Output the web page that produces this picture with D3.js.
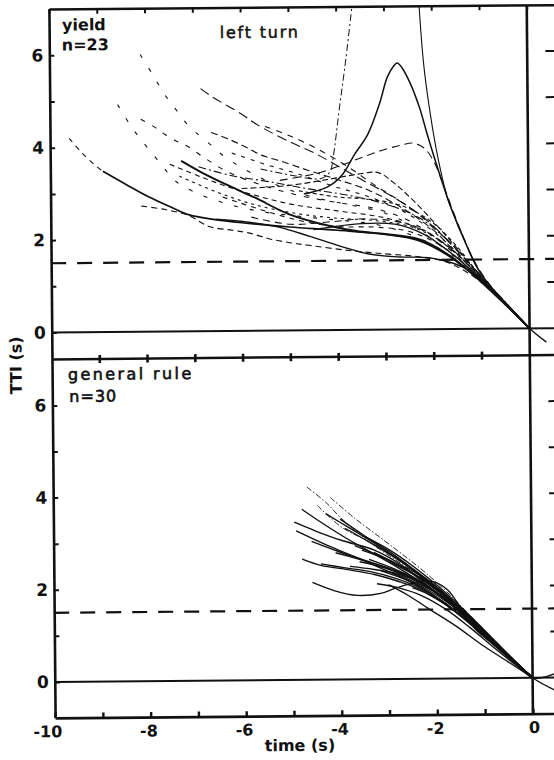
<!DOCTYPE html>
<html>
<head>
<meta charset="utf-8">
<script src="https://cdn.jsdelivr.net/npm/d3@7"></script>
<style>
  html, body { margin: 0; padding: 0; background: #fff; }
  svg { display: block; }
</style>
</head>
<body>
<svg id="chart"></svg>
<script>
// ---- data ----
const xTicks = [-10, -9, -8, -7, -6, -5, -4, -3, -2, -1, 0];
const xLabels = [-10, -8, -6, -4, -2, 0];
const yTicks = [0, 1, 2, 3, 4, 5, 6];
const yLabels = [0, 2, 4, 6];
const rightTicks = [1, 2, 3, 4, 5, 6];
const threshold = 1.5;

// top panel: yield, n=23  -> [time, TTI]
const yieldCurves = [
  [[-9.6,4.2],[-9.35,3.9],[-9.07,3.62],[-8.9,3.48]],
  [[-8.9,3.48],[-8.4,3.18],[-7.95,2.92],[-7.5,2.7],[-7.1,2.52],[-6.6,2.42],[-6,2.34],[-5,2.24],[-4,2.16],[-3,2.06],[-2.3,1.92],[-1.7,1.6],[-1.2,1.2],[-0.8,0.84],[-0.4,0.43],[0,0]],
  [[-8.1,2.72],[-7.6,2.64],[-7.1,2.5],[-6.7,2.27],[-6.2,2.18],[-5.86,2.12],[-5.44,1.99],[-5,1.9],[-4.6,1.84],[-3.77,1.72],[-3,1.64],[-2.3,1.57],[-1.7,1.44],[-1.2,1.16],[-0.8,0.82],[0,0]],
  [[-8.1,6.0],[-7.85,5.58],[-7.6,5.14],[-7.36,4.8],[-7.1,4.45],[-6.6,4.0],[-6.35,3.77],[-5.8,3.42],[-5.2,3.12],[-4.5,2.88],[-3.8,2.72],[-3,2.52],[-2.3,2.15],[-1.6,1.6],[-1,1.06],[-0.5,0.54],[0,0]],
  [[-8.58,4.92],[-8.33,4.49],[-8.1,4.16],[-7.85,3.84],[-7.6,3.51],[-7.39,3.26],[-7.0,3.02],[-6.4,2.78],[-5.6,2.58],[-4.8,2.47],[-4,2.38],[-3.2,2.28],[-2.5,2.06],[-1.8,1.7],[-1.2,1.22],[-0.6,0.64],[0,0]],
  [[-8.1,4.6],[-7.8,4.42],[-7.6,4.27],[-7.32,4.1],[-7.1,3.99],[-6.84,3.8],[-6.3,3.45],[-5.6,3.16],[-4.8,2.92],[-4,2.76],[-3.2,2.62],[-2.5,2.35],[-1.8,1.85],[-1.2,1.26],[-0.6,0.64],[0,0]],
  [[-6.84,5.25],[-6.6,5.07],[-6.0,4.7],[-5.65,4.45],[-5.02,4.1],[-4.5,3.85],[-4,3.56],[-3.4,3.2],[-2.8,2.85],[-2.2,2.42],[-1.6,1.82],[-1,1.12],[-0.5,0.56],[0,0]],
  [[-6.63,4.3],[-6.28,4.16],[-5.93,3.99],[-5.58,3.8],[-5.16,3.66],[-4.6,3.46],[-4,3.26],[-3.3,3.0],[-2.6,2.6],[-2,2.15],[-1.5,1.62],[-1,1.08],[-0.5,0.54],[0,0]],
  [[-7.26,3.69],[-6.84,3.44],[-6.28,3.15],[-5.72,2.88],[-5.02,2.52],[-4.18,2.26],[-3.6,2.14],[-3.0,2.07],[-2.3,1.95],[-1.7,1.62],[-1.2,1.2],[-0.6,0.62],[0,0]],
  [[-6.55,2.42],[-5.86,2.35],[-5.23,2.24],[-4.6,2.04],[-3.9,1.8],[-3.35,1.64],[-2.7,1.57],[-2.1,1.55],[-1.6,1.43],[-1.26,1.27],[-0.84,0.9],[-0.45,0.48],[0,0],[0.35,-0.3]],
  [[-4.7,2.95],[-4.2,3.1],[-3.9,3.35],[-3.63,3.8],[-3.35,4.23],[-3.1,4.89],[-2.93,5.47],[-2.8,5.7],[-2.72,5.77],[-2.62,5.66],[-2.45,5.32],[-2.27,4.82],[-2.09,4.16],[-1.88,3.44],[-1.62,2.62],[-1.32,1.85],[-1.0,1.18],[-0.5,0.55],[0,0]],
  [[-5.6,3.5],[-4.9,3.35],[-4.35,3.28],[-4.15,3.42],[-4.08,3.73],[-3.94,4.8],[-3.8,5.83],[-3.6,7.5]],
  [[-2.28,7.5],[-2.17,5.76],[-2.04,4.67],[-1.89,3.73],[-1.68,2.79],[-1.4,2.06],[-1.12,1.38],[-0.8,0.9],[-0.4,0.44],[0,0]],
  [[-5.2,3.25],[-4.4,3.4],[-3.87,3.58],[-3.4,3.76],[-3.0,3.9],[-2.65,3.99],[-2.4,4.03],[-2.16,3.91],[-1.95,3.58],[-1.72,2.95],[-1.42,2.12],[-1.12,1.42],[-0.8,0.92],[-0.4,0.45],[0,0]],
  [[-6.0,3.08],[-5,3.14],[-4.2,3.26],[-3.56,3.37],[-3.14,3.4],[-2.82,3.18],[-2.4,2.78],[-1.9,2.22],[-1.4,1.62],[-1,1.12],[-0.5,0.56],[0,0]],
  [[-7.5,3.62],[-6.8,3.32],[-6,3.02],[-5,2.74],[-4,2.58],[-3,2.42],[-2.2,2.15],[-1.6,1.7],[-1,1.1],[-0.5,0.55],[0,0]],
  [[-7.3,3.36],[-6.5,3.0],[-5.7,2.72],[-4.8,2.52],[-4,2.42],[-3.2,2.36],[-2.4,2.2],[-1.7,1.8],[-1,1.1],[0,0]],
  [[-6.9,3.56],[-6.2,3.36],[-5.4,3.22],[-4.6,3.06],[-3.8,2.92],[-3,2.72],[-2.3,2.42],[-1.7,1.92],[-1,1.14],[0,0]],
  [[-6.4,2.9],[-5.6,2.62],[-4.8,2.38],[-4,2.24],[-3.2,2.22],[-2.5,2.12],[-1.8,1.78],[-1,1.06],[0,0]],
  [[-5.5,4.42],[-5,4.22],[-4.4,3.92],[-3.8,3.55],[-3.2,3.12],[-2.6,2.72],[-2,2.22],[-1.4,1.58],[-1,1.12],[0,0]],
  [[-4.8,3.02],[-4.0,2.88],[-3.3,2.82],[-2.6,2.66],[-2.0,2.3],[-1.5,1.78],[-1,1.12],[0,0]],
  [[-5.8,2.46],[-5,2.3],[-4.2,2.34],[-3.4,2.4],[-2.6,2.3],[-2,2.02],[-1.5,1.62],[-1,1.08],[0,0]],
  [[-4.5,2.18],[-3.5,2.3],[-2.8,2.28],[-2.2,2.06],[-1.6,1.62],[-1,1.06],[0,0]],
  [[-6.2,3.85],[-5.5,3.6],[-4.8,3.38],[-4.1,3.12],[-3.4,2.9],[-2.7,2.6],[-2.1,2.2],[-1.5,1.66],[-1,1.12],[0,0]]
];

// bottom panel: general rule, n=30
const generalCurves = [
  [[-4.69,4.18],[-4.3,3.85],[-3.98,3.5],[-3.6,3.16],[-3.29,2.9],[-2.8,2.55],[-2.32,2.22],[-1.8,1.8],[-1.3,1.3],[-0.8,0.8],[-0.4,0.4],[0,0]],
  [[-4.8,3.7],[-4.41,3.42],[-3.9,3.08],[-3.4,2.78],[-2.9,2.48],[-2.4,2.15],[-1.9,1.78],[-1.4,1.34],[-0.9,0.87],[-0.45,0.43],[0,0],[0.46,-0.27]],
  [[-4.96,3.42],[-4.5,3.22],[-3.98,3.02],[-3.29,2.8],[-2.8,2.52],[-2.3,2.12],[-1.8,1.7],[-1.3,1.25],[-0.8,0.78],[-0.4,0.38],[0,0]],
  [[-4.92,3.23],[-4.27,2.91],[-3.7,2.66],[-3.29,2.47],[-2.8,2.24],[-2.3,1.97],[-1.8,1.62],[-1.3,1.2],[-0.8,0.74],[-0.4,0.36],[0,0]],
  [[-4.8,2.62],[-4.41,2.48],[-3.85,2.38],[-3.29,2.27],[-2.8,2.12],[-2.3,1.92],[-1.8,1.6],[-1.3,1.2],[-0.8,0.75],[-0.4,0.36],[0,0]],
  [[-4.59,2.11],[-4.14,1.93],[-3.65,1.82],[-3.16,1.86],[-2.88,1.96],[-2.55,2.06],[-2.3,2.11],[-2.05,2.1],[-1.77,1.93],[-1.49,1.53],[-1.2,1.08],[-0.8,0.72],[-0.4,0.36],[0,0]],
  [[-4.47,3.78],[-3.98,3.31],[-3.43,3.0],[-2.9,2.68],[-2.4,2.32],[-1.9,1.9],[-1.4,1.42],[-0.9,0.92],[-0.45,0.46],[0,0]],
  [[-4.41,2.51],[-3.9,2.42],[-3.4,2.34],[-2.9,2.2],[-2.4,2.0],[-1.9,1.7],[-1.4,1.3],[-0.9,0.82],[-0.45,0.4],[0,0]],
  [[-4.3,3.6],[-3.8,3.28],[-3.3,2.96],[-2.8,2.6],[-2.3,2.22],[-1.8,1.8],[-1.3,1.32],[-0.8,0.82],[-0.4,0.4],[0,0]],
  [[-4.0,3.48],[-3.5,3.12],[-3.0,2.78],[-2.5,2.4],[-2.0,2.0],[-1.5,1.52],[-1.0,1.0],[-0.5,0.5],[0,0],[0.46,0.08]],
  [[-3.9,3.28],[-3.4,2.98],[-2.9,2.66],[-2.4,2.3],[-1.9,1.88],[-1.4,1.42],[-0.9,0.9],[-0.45,0.44],[0,0]],
  [[-3.7,2.9],[-3.2,2.68],[-2.7,2.42],[-2.2,2.08],[-1.7,1.68],[-1.2,1.2],[-0.7,0.68],[0,0]],
  [[-3.6,2.55],[-3.1,2.42],[-2.6,2.22],[-2.1,1.94],[-1.6,1.56],[-1.1,1.1],[-0.6,0.58],[0,0]],
  [[-3.5,3.1],[-3.0,2.82],[-2.5,2.46],[-2.0,2.04],[-1.5,1.56],[-1.0,1.04],[-0.5,0.5],[0,0]],
  [[-3.3,2.75],[-2.8,2.48],[-2.3,2.16],[-1.8,1.76],[-1.3,1.3],[-0.8,0.8],[-0.4,0.39],[0,0]],
  [[-3.15,2.35],[-2.7,2.18],[-2.2,1.94],[-1.7,1.6],[-1.2,1.16],[-0.7,0.66],[0,0]],
  [[-2.9,2.3],[-2.5,2.12],[-2.0,1.86],[-1.5,1.48],[-1.0,1.0],[-0.5,0.48],[0,0]],
  [[-3.24,2.07],[-2.8,1.98],[-2.3,1.8],[-1.8,1.5],[-1.3,1.1],[-0.8,0.66],[-0.4,0.32],[0,0]],
  [[-3.0,2.05],[-2.6,1.82],[-2.18,1.53],[-1.6,1.14],[-1.05,0.72],[-0.51,0.35],[0,0]],
  [[-4.1,2.75],[-3.6,2.6],[-3.1,2.44],[-2.6,2.24],[-2.1,1.94],[-1.6,1.52],[-1.1,1.06],[-0.5,0.48],[0,0]],
  [[-3.8,2.45],[-3.3,2.38],[-2.8,2.28],[-2.3,2.06],[-1.8,1.7],[-1.3,1.24],[-0.7,0.66],[0,0]],
  [[-4.2,3.95],[-3.7,3.5],[-3.2,3.1],[-2.7,2.7],[-2.2,2.28],[-1.7,1.8],[-1.2,1.26],[-0.6,0.62],[0,0]],
  [[-3.4,2.6],[-2.9,2.4],[-2.4,2.16],[-1.9,1.8],[-1.4,1.36],[-0.9,0.86],[-0.45,0.42],[0,0]],
  [[-2.7,2.45],[-2.3,2.22],[-1.9,1.9],[-1.5,1.52],[-1.0,1.0],[-0.5,0.48],[0,0]],
  [[-2.5,1.98],[-2.1,1.8],[-1.7,1.52],[-1.3,1.18],[-0.8,0.72],[-0.4,0.35],[0,0]],
  [[-3.55,2.8],[-3.0,2.58],[-2.5,2.3],[-2.0,1.96],[-1.5,1.5],[-1.0,0.98],[-0.5,0.48],[0,0]],
  [[-2.35,2.22],[-2.0,1.98],[-1.6,1.62],[-1.2,1.2],[-0.7,0.68],[0,0]],
  [[-4.6,3.0],[-4.0,2.76],[-3.4,2.55],[-2.8,2.32],[-2.2,2.0],[-1.7,1.64],[-1.2,1.16],[-0.6,0.56],[0,0]],
  [[-3.0,2.55],[-2.5,2.28],[-2.0,1.94],[-1.5,1.46],[-1.0,0.96],[-0.5,0.46],[0,0]],
  [[-2.2,1.85],[-1.8,1.6],[-1.4,1.28],[-1.0,0.9],[-0.5,0.44],[0,0]]
];

// ---- styles per curve ----
const yieldDash = ["5,5", null, "6,4", "4,12", "4,12", "5,8", "10,5", "7,4", null, null, null,
  "7,3,2,3", null, "8,5", "6,3", "5,4", "3,4", "8,3,2,3", "5,5", "6,6", "4,3", "7,5", null, "4,6"];
const yieldWidth = [1.1, 1.7, 1.1, 1.1, 1.1, 1.1, 1.1, 1.1, 1.9, 1.4, 1.5, 1, 1.1, 1.1, 1.1, 1.1, 1.1, 1.1, 1.1, 1.1, 1.1, 1.1, 1.3, 1.1];
const generalDashed = [0, 6, 21];

const W = 554, H = 760;
const svg = d3.select("#chart").attr("width", W).attr("height", H);

// the scan sits slightly rotated
const g = svg.append("g").attr("transform", "rotate(-0.5, 290, 360)");

const x = d3.scaleLinear().domain([-10, 0.6]).range([52, 558.5]);
const yTop = d3.scaleLinear().domain([-0.58, 7.0]).range([357.3, 7]);
const yBot = d3.scaleLinear().domain([-0.78, 7.0]).range([715.8, 357.3]);

const font = "DejaVu Sans, Verdana, sans-serif";

const defs = svg.append("defs");
[["clipTop", yTop], ["clipBot", yBot]].forEach(([id, y]) => {
  defs.append("clipPath").attr("id", id).append("rect")
    .attr("x", x.range()[0]).attr("y", y.range()[1])
    .attr("width", x.range()[1] - x.range()[0])
    .attr("height", y.range()[0] - y.range()[1]);
});

function drawPanel(y, curves, clipId, dashOf, widthOf) {
  const p = g.append("g");

  // zero line and 1.5 s threshold
  p.append("line")
    .attr("x1", x.range()[0]).attr("x2", x.range()[1])
    .attr("y1", y(0)).attr("y2", y(0))
    .attr("stroke", "#111").attr("stroke-width", 2);
  p.append("line")
    .attr("x1", x.range()[0]).attr("x2", x.range()[1])
    .attr("y1", y(threshold)).attr("y2", y(threshold))
    .attr("stroke", "#111").attr("stroke-width", 2.2)
    .attr("stroke-dasharray", "15,11");

  // tick stubs at the right edge
  p.append("g").selectAll("line")
    .data(rightTicks)
    .join("line")
    .attr("x1", x(0.38)).attr("x2", x(0.6))
    .attr("y1", d => y(d)).attr("y2", d => y(d))
    .attr("stroke", "#111").attr("stroke-width", 2);

  const line = d3.line()
    .defined(d => d != null)
    .x(d => x(d[0]))
    .y(d => y(d[1]))
    .curve(d3.curveCatmullRom.alpha(0.5));

  p.append("g")
    .attr("clip-path", `url(#${clipId})`)
    .selectAll("path")
    .data(curves)
    .join("path")
    .attr("d", line)
    .attr("fill", "none")
    .attr("stroke", "#111")
    .attr("stroke-width", (d, i) => widthOf(i))
    .attr("stroke-dasharray", (d, i) => dashOf(i))
    .attr("stroke-linejoin", "round");

  // left axis
  const ax = p.append("g")
    .attr("transform", `translate(${x.range()[0]},0)`)
    .call(d3.axisLeft(y).tickValues(yTicks).tickSize(-5).tickSizeOuter(0).tickPadding(6)
      .tickFormat(d => yLabels.includes(d) ? d : ""));
  ax.select(".domain").attr("stroke", "#111").attr("stroke-width", 2.6);
  ax.selectAll(".tick line").attr("stroke", "#111").attr("stroke-width", 2);
  ax.selectAll("text")
    .attr("fill", "#111")
    .style("font-family", font).style("font-size", "17px").style("font-weight", "bold");
}

drawPanel(yTop, yieldCurves, "clipTop", i => yieldDash[i], i => yieldWidth[i]);
drawPanel(yBot, generalCurves, "clipBot",
  i => generalDashed.includes(i) ? "6,2,1.5,2" : null,
  i => generalDashed.includes(i) ? 0.9 : 1.35);

// top border with inward ticks
const topAx = g.append("g")
  .attr("transform", `translate(0,${yTop.range()[1]})`)
  .call(d3.axisTop(x).tickValues(xTicks).tickSize(-5).tickSizeOuter(0).tickFormat(""));
topAx.select(".domain").attr("stroke", "#111").attr("stroke-width", 2.5);
topAx.selectAll(".tick line").attr("stroke", "#111").attr("stroke-width", 2);

// shared border between the panels, ticks on both sides
const mid = yTop.range()[0];
g.append("line")
  .attr("x1", x.range()[0]).attr("x2", x.range()[1])
  .attr("y1", mid).attr("y2", mid)
  .attr("stroke", "#111").attr("stroke-width", 2.5);
g.append("g").selectAll("line")
  .data(xTicks.slice(1, -1))
  .join("line")
  .attr("x1", d => x(d)).attr("x2", d => x(d))
  .attr("y1", mid - 4).attr("y2", mid + 4)
  .attr("stroke", "#111").attr("stroke-width", 2.6);

// bottom axis
const botAx = g.append("g")
  .attr("transform", `translate(0,${yBot.range()[0]})`)
  .call(d3.axisBottom(x).tickValues(xTicks).tickSize(-5).tickSizeOuter(0).tickPadding(8)
    .tickFormat(d => xLabels.includes(d) ? d : ""));
botAx.select(".domain").attr("stroke", "#111").attr("stroke-width", 2.6);
botAx.selectAll(".tick line").attr("stroke", "#111").attr("stroke-width", 2.4);
botAx.selectAll("text")
  .attr("fill", "#111")
  .attr("text-anchor", "end")
  .attr("dx", 6.5)
  .text(d => xLabels.includes(d) ? String(d) : "")
  .style("font-family", font).style("font-size", "16px").style("font-weight", "bold");

// vertical line at t = 0 across both panels
g.append("line")
  .attr("x1", x(0)).attr("x2", x(0))
  .attr("y1", yTop.range()[1]).attr("y2", yBot.range()[0])
  .attr("stroke", "#111").attr("stroke-width", 2.6);

// texts
function label(txt, px, py, opts = {}) {
  return g.append("text")
    .attr("x", px).attr("y", py)
    .attr("fill", "#111")
    .attr("stroke", opts.stroke ? "#111" : "none")
    .attr("stroke-width", opts.stroke || 0)
    .style("font-family", font)
    .style("font-size", (opts.size || 16) + "px")
    .style("font-weight", opts.weight || "normal")
    .style("letter-spacing", (opts.spacing || 0) + "px")
    .attr("text-anchor", opts.anchor || "start")
    .text(txt);
}

label("yield", 65, 28.5, { weight: "bold" });
label("n=23", 64.5, 48.5, { weight: "bold" });
label("left turn", 222.5, 37.5, { spacing: 1.8, stroke: 0.5 });
label("general rule", 67.8, 378, { spacing: 2.4, stroke: 0.6 });
label("n=30", 69, 400, { spacing: 1, stroke: 0.6 });
label("time (s)", 296.6, 751, { weight: "bold", anchor: "middle" });

g.append("text")
  .attr("transform", "translate(16,363) rotate(-90)")
  .attr("text-anchor", "middle")
  .attr("dominant-baseline", "central")
  .attr("fill", "#111")
  .style("font-family", font).style("font-size", "16px").style("font-weight", "bold")
  .text("TTI (s)");
</script>
</body>
</html>
